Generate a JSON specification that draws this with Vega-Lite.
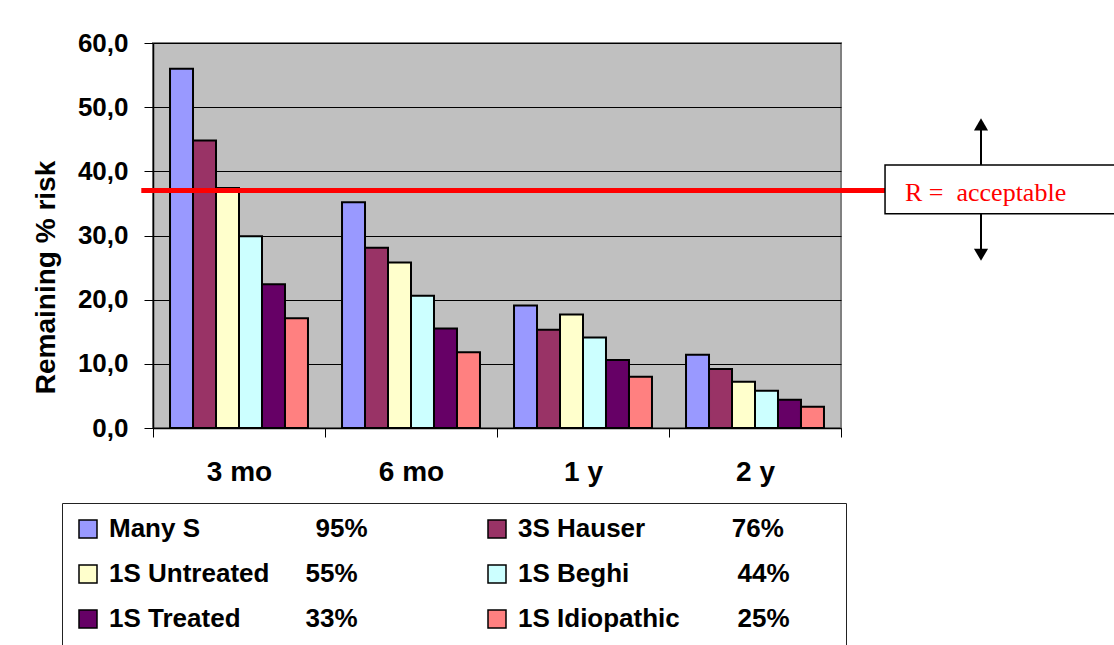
{
  "$schema": "https://vega.github.io/schema/vega-lite/v6.json",
  "width": 688,
  "height": 385,
  "autosize": {"type": "none"},
  "padding": {"left": 153, "top": 43, "right": 273, "bottom": 217},
  "background": "white",
  "config": {
    "font": "Liberation Sans",
    "view": {"stroke": "#808080", "strokeWidth": 2, "fill": "#C0C0C0"}
  },
  "resolve": {"scale": {"x": "independent"}, "axis": {"x": "independent"}},
  "layer": [
    {
      "data": {
        "values": [
          {"period": "3 mo", "series": "Many S", "risk": 56.0},
          {"period": "3 mo", "series": "3S Hauser", "risk": 44.8},
          {"period": "3 mo", "series": "1S Untreated", "risk": 37.4},
          {"period": "3 mo", "series": "1S Beghi", "risk": 29.9},
          {"period": "3 mo", "series": "1S Treated", "risk": 22.4},
          {"period": "3 mo", "series": "1S Idiopathic", "risk": 17.1},
          {"period": "6 mo", "series": "Many S", "risk": 35.2},
          {"period": "6 mo", "series": "3S Hauser", "risk": 28.1},
          {"period": "6 mo", "series": "1S Untreated", "risk": 25.8},
          {"period": "6 mo", "series": "1S Beghi", "risk": 20.6},
          {"period": "6 mo", "series": "1S Treated", "risk": 15.5},
          {"period": "6 mo", "series": "1S Idiopathic", "risk": 11.8},
          {"period": "1 y", "series": "Many S", "risk": 19.1},
          {"period": "1 y", "series": "3S Hauser", "risk": 15.3},
          {"period": "1 y", "series": "1S Untreated", "risk": 17.7},
          {"period": "1 y", "series": "1S Beghi", "risk": 14.1},
          {"period": "1 y", "series": "1S Treated", "risk": 10.6},
          {"period": "1 y", "series": "1S Idiopathic", "risk": 8.0},
          {"period": "2 y", "series": "Many S", "risk": 11.4},
          {"period": "2 y", "series": "3S Hauser", "risk": 9.2},
          {"period": "2 y", "series": "1S Untreated", "risk": 7.2},
          {"period": "2 y", "series": "1S Beghi", "risk": 5.8},
          {"period": "2 y", "series": "1S Treated", "risk": 4.4},
          {"period": "2 y", "series": "1S Idiopathic", "risk": 3.3}
        ]
      },
      "mark": {"type": "bar", "stroke": "black", "strokeWidth": 2, "opacity": 1},
      "encoding": {
        "x": {
          "field": "period",
          "type": "nominal",
          "sort": ["3 mo", "6 mo", "1 y", "2 y"],
          "scale": {"paddingInner": 0, "paddingOuter": 0},
          "axis": {
            "title": null,
            "labelAngle": 0,
            "labelFontSize": 28,
            "labelFontWeight": "bold",
            "labelColor": "black",
            "labelPadding": 21,
            "tickBand": "extent",
            "tickSize": 9,
            "tickColor": "black",
            "tickWidth": 1,
            "domainColor": "black",
            "domainWidth": 1.5
          }
        },
        "xOffset": {
          "field": "series",
          "type": "nominal",
          "sort": ["Many S", "3S Hauser", "1S Untreated", "1S Beghi", "1S Treated", "1S Idiopathic"],
          "scale": {"paddingInner": 0, "paddingOuter": 0.74}
        },
        "y": {
          "field": "risk",
          "type": "quantitative",
          "scale": {"domain": [0, 60], "nice": false, "zero": true},
          "axis": {
            "title": "Remaining % risk",
            "titleFontSize": 28,
            "titleFontWeight": "bold",
            "titleColor": "black",
            "titleX": -99,
            "titleY": 234,
            "titleAlign": "center",
            "titleBaseline": "alphabetic",
            "titleAngle": -90,
            "values": [0, 10, 20, 30, 40, 50, 60],
            "labelExpr": "replace(format(datum.value, '.1f'), '.', ',')",
            "labelFontSize": 26,
            "labelFontWeight": "bold",
            "labelColor": "black",
            "labelPadding": 16,
            "tickSize": 9,
            "tickColor": "black",
            "domainColor": "black",
            "domainWidth": 1.5,
            "grid": true,
            "gridColor": "black",
            "gridWidth": 1,
            "gridOpacity": 1
          }
        },
        "color": {
          "field": "series",
          "type": "nominal",
          "scale": {
            "domain": ["Many S", "3S Hauser", "1S Untreated", "1S Beghi", "1S Treated", "1S Idiopathic"],
            "range": ["#9999FF", "#993366", "#FFFFCC", "#CCFFFF", "#660066", "#FF8080"]
          },
          "legend": {
            "title": null,
            "orient": "none",
            "direction": "horizontal",
            "legendX": -91,
            "legendY": 460,
            "columns": 2,
            "symbolType": "square",
            "symbolSize": 324,
            "symbolStrokeColor": "black",
            "symbolStrokeWidth": 1.5,
            "symbolOpacity": 1,
            "labelFont": "Liberation Sans",
            "labelFontSize": 26,
            "labelFontWeight": "bold",
            "labelColor": "black",
            "labelLimit": 600,
            "labelOffset": 8,
            "rowPadding": 19,
            "columnPadding": 116,
            "padding": 13,
            "strokeColor": "#222222",
            "fillColor": "white",
            "labelExpr": "datum.label == 'Many S' ? 'Many S\u00a0\u00a0\u00a0\u00a0\u00a0\u00a0\u00a0\u00a0\u00a0\u00a0\u00a0\u00a0\u00a0\u00a0\u00a0\u00a095%' : datum.label == '3S Hauser' ? '3S Hauser\u00a0\u00a0\u00a0\u00a0\u00a0\u00a0\u00a0\u00a0\u00a0\u00a0\u00a0\u00a076%' : datum.label == '1S Untreated' ? '1S Untreated\u00a0\u00a0\u00a0\u00a0\u00a055%' : datum.label == '1S Beghi' ? '1S Beghi\u00a0\u00a0\u00a0\u00a0\u00a0\u00a0\u00a0\u00a0\u00a0\u00a0\u00a0\u00a0\u00a0\u00a0\u00a044%\u00a0\u00a0\u00a0\u00a0\u00a0\u00a0\u200b' : datum.label == '1S Treated' ? '1S Treated\u00a0\u00a0\u00a0\u00a0\u00a0\u00a0\u00a0\u00a0\u00a033%' : '1S Idiopathic\u00a0\u00a0\u00a0\u00a0\u00a0\u00a0\u00a0\u00a025%'"
          }
        }
      }
    },
    {
      "data": {"values": [{"threshold": 37, "label": "R = \u00a0acceptable"}]},
      "layer": [
        {
          "mark": {"type": "rule", "color": "#FF0000", "strokeWidth": 5},
          "encoding": {
            "x": {"datum": -0.017, "type": "quantitative", "scale": {"domain": [0, 1], "nice": false, "zero": false}, "axis": null},
            "x2": {"datum": 1.064},
            "y": {"field": "threshold", "type": "quantitative", "scale": {"domain": [0, 60], "nice": false}, "title": "Remaining % risk"}
          }
        },
        {
          "mark": {"type": "rect", "fill": "white", "stroke": "black", "strokeWidth": 1.5},
          "encoding": {
            "x": {"datum": 1.064, "type": "quantitative", "axis": null},
            "x2": {"datum": 1.43},
            "y": {"datum": 33.4, "type": "quantitative", "title": "Remaining % risk"},
            "y2": {"datum": 41.0}
          }
        },
        {
          "mark": {"type": "text", "font": "Liberation Serif", "fontSize": 26, "color": "#FF0000", "align": "left", "baseline": "middle", "dy": 2},
          "encoding": {
            "x": {"datum": 1.093, "type": "quantitative", "axis": null},
            "y": {"field": "threshold", "type": "quantitative", "title": "Remaining % risk"},
            "text": {"field": "label"}
          }
        },
        {
          "mark": {"type": "rule", "color": "black", "strokeWidth": 2},
          "encoding": {
            "x": {"datum": 1.2035, "type": "quantitative", "axis": null},
            "y": {"datum": 41.0, "type": "quantitative", "title": "Remaining % risk"},
            "y2": {"datum": 46.5}
          }
        },
        {
          "mark": {"type": "rule", "color": "black", "strokeWidth": 2},
          "encoding": {
            "x": {"datum": 1.2035, "type": "quantitative", "axis": null},
            "y": {"datum": 33.4, "type": "quantitative", "title": "Remaining % risk"},
            "y2": {"datum": 27.8}
          }
        },
        {
          "mark": {"type": "point", "shape": "triangle-up", "filled": true, "color": "black", "size": 200, "opacity": 1},
          "encoding": {
            "x": {"datum": 1.2035, "type": "quantitative", "axis": null},
            "y": {"datum": 47.3, "type": "quantitative", "title": "Remaining % risk"}
          }
        },
        {
          "mark": {"type": "point", "shape": "triangle-down", "filled": true, "color": "black", "size": 200, "opacity": 1},
          "encoding": {
            "x": {"datum": 1.2035, "type": "quantitative", "axis": null},
            "y": {"datum": 27.0, "type": "quantitative", "title": "Remaining % risk"}
          }
        }
      ]
    }
  ]
}
